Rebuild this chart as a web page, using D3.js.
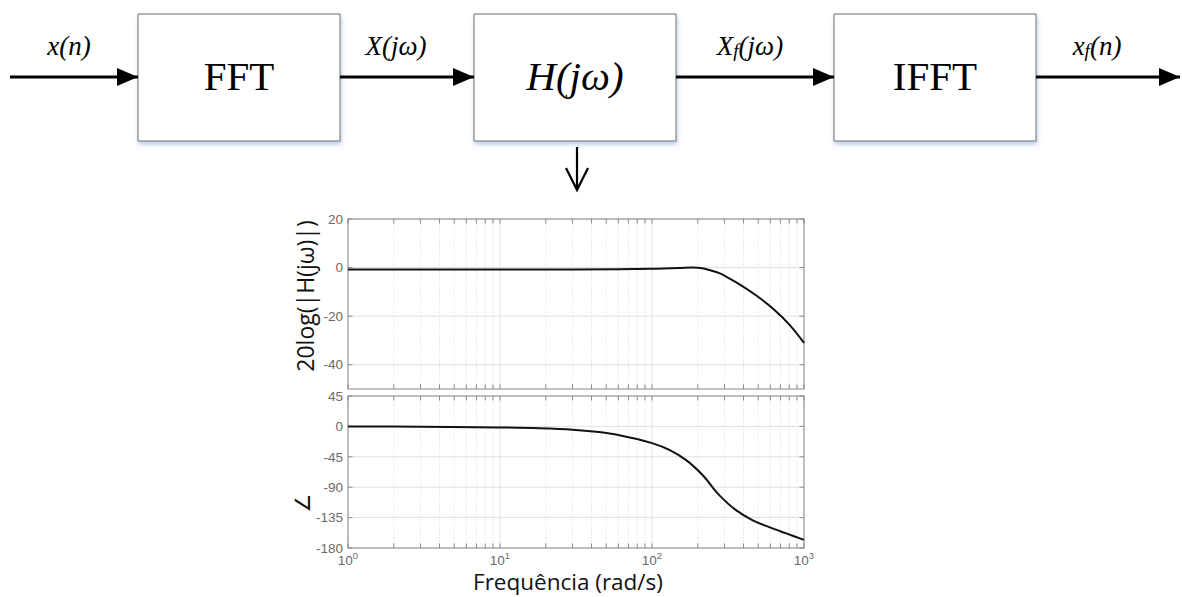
<!DOCTYPE html>
<html><head><meta charset="utf-8">
<script src="https://cdn.jsdelivr.net/npm/d3@7"></script>
<style>body{margin:0;background:#fff}svg{display:block}</style>
</head><body>
<svg id="c" width="1182" height="597"></svg>
<script>
// ---- data ----
const blocks = ["FFT", "H(jω)", "IFFT"];
const signalLabels = ["x(n)", "X(jω)", "Xf(jω)", "xf(n)"];
const magFreq = [1, 3, 10, 30, 60, 100, 150, 185, 214, 238, 277, 307, 379, 488, 629, 809, 1000];
const magDb   = [-0.8, -0.8, -0.8, -0.75, -0.65, -0.5, -0.2, 0, -0.3, -1.0, -2.3, -3.7, -7.0, -11.6, -17.1, -23.8, -31.0];
const phFreq  = [1, 3, 10, 18, 30, 43, 61, 100, 130, 167, 215, 277, 357, 460, 590, 757, 1000];
const phDeg   = [0, -0.4, -1.5, -2.7, -4.8, -8, -13, -24.8, -34.7, -49.6, -72, -101.7, -124, -139, -149, -158, -168];
const xTicks = [1, 10, 100, 1000];
const xTickExp = ["0", "1", "2", "3"];
const magTicks = [20, 0, -20, -40];
const phTicks = [45, 0, -45, -90, -135, -180];

const svg = d3.select("#c");
const defs = svg.append("defs");
const f = defs.append("filter").attr("id","sh").attr("x","-10%").attr("y","-10%").attr("width","120%").attr("height","130%");
f.append("feDropShadow").attr("dx",1).attr("dy",3).attr("stdDeviation",2).attr("flood-color","#a9c2de").attr("flood-opacity",0.8);
defs.append("marker").attr("id","ah").attr("viewBox","0 0 21 18").attr("refX",21).attr("refY",9)
  .attr("markerWidth",21).attr("markerHeight",18).attr("markerUnits","userSpaceOnUse").attr("orient","auto")
  .append("path").attr("d","M0,0L21,9L0,18Z").attr("fill","#000");

// ---- block diagram (layout) ----
const boxX = [138, 474, 834], boxW = 202;
const boxTop = 14, boxH = 127, arrowY = 77;
const g = svg.append("g");
g.selectAll("rect.b").data(blocks).join("rect").attr("class","b")
  .attr("x", (d,i)=>boxX[i]).attr("y", boxTop).attr("width", boxW).attr("height", boxH)
  .attr("fill","#fff").attr("stroke","#6e6e6e").attr("stroke-width",1).attr("filter","url(#sh)");
g.selectAll("text.b").data(blocks).join("text").attr("class","b")
  .attr("x", (d,i)=>boxX[i]+boxW/2).attr("y", 90).attr("text-anchor","middle")
  .attr("font-family","'Liberation Serif','Times New Roman',serif").attr("font-size",41)
  .attr("font-style", (d,i)=> i===1 ? "italic" : "normal").text(d=>d);
const arrowSegs = [
  [10, boxX[0]],
  [boxX[0]+boxW, boxX[1]],
  [boxX[1]+boxW, boxX[2]],
  [boxX[2]+boxW, 1180]
];
g.selectAll("line.a").data(arrowSegs).join("line").attr("class","a")
  .attr("x1",d=>d[0]).attr("x2",d=>d[1]).attr("y1",arrowY).attr("y2",arrowY)
  .attr("stroke","#000").attr("stroke-width",3).attr("marker-end","url(#ah)");
const lblX = [69, 396, 750, 1097];
signalLabels.forEach((s,i)=>{
  const t = g.append("text").attr("x",lblX[i]).attr("y",55).attr("text-anchor","middle")
    .attr("font-family","'Liberation Serif','Times New Roman',serif").attr("font-size",27).attr("font-style","italic");
  if (s.includes("f(")) {
    const k = s.indexOf("f(");
    t.append("tspan").text(s.slice(0,k));
    t.append("tspan").attr("font-size",19).attr("dy",2).text("f");
    t.append("tspan").attr("dy",-2).text(s.slice(k+1));
  } else t.text(s);
});
// down arrow
const dx0 = 577;
g.append("path").attr("d",`M${dx0},147L${dx0},190M${dx0-11},168L${dx0},190L${dx0+11},168`)
  .attr("fill","none").attr("stroke","#000").attr("stroke-width",2.2);

// ---- bode ----
const x = d3.scaleLog().domain([1,1000]).range([348, 804]);
const yM = d3.scaleLinear().domain([-50,20]).range([389,219]);
const yP = d3.scaleLinear().domain([-180,45]).range([548,396]);
const minor = [];
for (let d=1; d<1000; d*=10) for (let k=2;k<=9;k++) minor.push(d*k);
const axCol = "#8a8a8a", lblCol = "#6a6a6a";

function panel(y, yticks, fx, fy) {
  const [b,t] = y.range();
  const p = svg.append("g");
  p.selectAll("line.mg").data(minor).join("line").attr("x1",d=>x(d)).attr("x2",d=>x(d)).attr("y1",t).attr("y2",b)
    .attr("stroke","#dcdcdc").attr("stroke-width",0.8).attr("stroke-dasharray","1.5,1.5");
  p.selectAll("line.Mg").data(xTicks).join("line").attr("x1",d=>x(d)).attr("x2",d=>x(d)).attr("y1",t).attr("y2",b)
    .attr("stroke","#e0e0e0").attr("stroke-width",1);
  p.selectAll("line.hg").data(yticks).join("line").attr("x1",348).attr("x2",804).attr("y1",d=>y(d)).attr("y2",d=>y(d))
    .attr("stroke","#e0e0e0").attr("stroke-width",1);
  const tl = 4.5;
  const xt = minor.concat(xTicks);
  p.selectAll("line.tb").data(xt).join("line").attr("x1",d=>x(d)).attr("x2",d=>x(d)).attr("y1",b).attr("y2",b-tl).attr("stroke",axCol);
  p.selectAll("line.tt").data(xt).join("line").attr("x1",d=>x(d)).attr("x2",d=>x(d)).attr("y1",t).attr("y2",t+tl).attr("stroke",axCol);
  p.selectAll("line.tl").data(yticks).join("line").attr("x1",348).attr("x2",348+tl).attr("y1",d=>y(d)).attr("y2",d=>y(d)).attr("stroke",axCol);
  p.selectAll("line.tr").data(yticks).join("line").attr("x1",804).attr("x2",804-tl).attr("y1",d=>y(d)).attr("y2",d=>y(d)).attr("stroke",axCol);
  p.append("rect").attr("x",348).attr("y",t).attr("width",804-348).attr("height",b-t)
    .attr("fill","none").attr("stroke",axCol).attr("stroke-width",1);
  p.selectAll("text.yl").data(yticks).join("text").attr("x",343).attr("y",d=>y(d)).attr("dy","0.35em")
    .attr("text-anchor","end").attr("font-family","'Liberation Sans',Arial,sans-serif").attr("font-size",13.5)
    .attr("fill",lblCol).text(d=>d);
  const line = d3.line().x(d=>x(d[0])).y(d=>y(d[1])).curve(d3.curveCatmullRom.alpha(0.5));
  p.append("path").datum(fx.map((v,i)=>[v,fy[i]])).attr("d",line).attr("fill","none")
    .attr("stroke","#111").attr("stroke-width",2);
}
panel(yM, magTicks, magFreq, magDb);
panel(yP, phTicks, phFreq, phDeg);

// x tick labels
const xl = svg.append("g");
xTicks.forEach((v,i)=>{
  const t = xl.append("text").attr("x",x(v)).attr("y",565).attr("text-anchor","middle")
    .attr("font-family","'Liberation Sans',Arial,sans-serif").attr("font-size",13.5).attr("fill",lblCol);
  t.append("tspan").text("10");
  t.append("tspan").attr("font-size",9.5).attr("dy",-6).text(xTickExp[i]);
});
svg.append("text").attr("x",568).attr("y",590).attr("text-anchor","middle")
  .attr("font-family","'Open Sans',sans-serif").attr("font-size",22.5).attr("fill","#111").text("Frequência (rad/s)");
svg.append("text").attr("transform","translate(314,296) rotate(-90)").attr("text-anchor","middle")
  .attr("font-family","'Open Sans',sans-serif").attr("font-size",23).attr("fill","#111").text("20log(|H(jω)|)");
svg.append("text").attr("transform","translate(310,503) rotate(-90)").attr("text-anchor","middle")
  .attr("font-family","'Open Sans','DejaVu Sans',sans-serif").attr("font-size",21).attr("fill","#111").text("∠");
</script>
</body></html>
